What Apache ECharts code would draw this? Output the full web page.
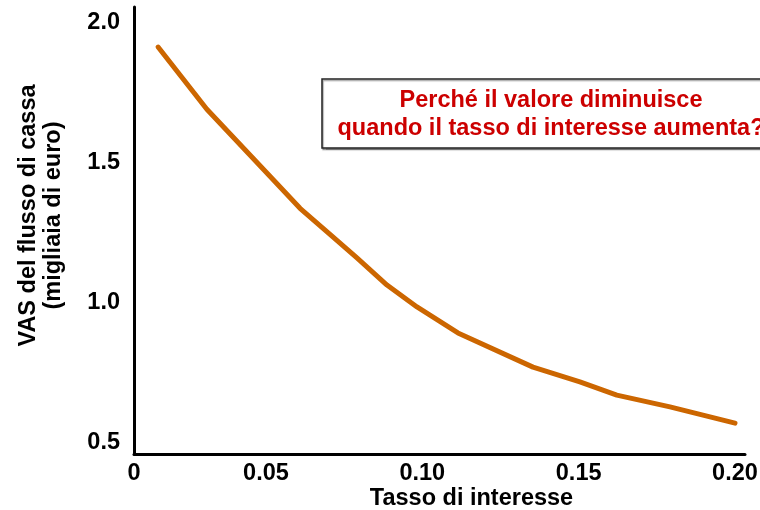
<!DOCTYPE html>
<html>
<head>
<meta charset="utf-8">
<script src="https://cdn.jsdelivr.net/npm/echarts@6/dist/echarts.min.js"></script>
<style>
html,body{margin:0;padding:0;background:#fff;}
#chart{width:760px;height:510px;}
</style>
</head>
<body>
<div id="chart"></div>
<script>
// Data
const rates = [0.0155, 0.0311, 0.0503, 0.0609, 0.0714, 0.0791, 0.0887, 0.0983, 0.1114, 0.1354, 0.1504, 0.1622, 0.1792, 0.2];
const presentValues = [1.914, 1.692, 1.464, 1.338, 1.236, 1.161, 1.064, 0.986, 0.893, 0.771, 0.718, 0.671, 0.629, 0.571];
const X_MIN = 0.0078, X_MAX = 0.2032;
const Y_MIN = 0.4607, Y_MAX = 2.057;
const xTickValues = [X_MIN, 0.05, 0.10, 0.15, 0.20];
const xTickLabels = ['0', '0.05', '0.10', '0.15', '0.20'];
const yTickValues = [0.5, 1.0, 1.5, 2.0];
const yTickLabels = ['0.5', '1.0', '1.5', '2.0'];
const xTitle = 'Tasso di interesse';
const yTitle = 'VAS del flusso di cassa\n(migliaia di euro)';
const noteLines = ['Perché il valore diminuisce', 'quando il tasso di interesse aumenta?'];

const FONT = '"Liberation Sans", Arial, Helvetica, sans-serif';
const FS = 23.5;

function pickLabel(values, labels, v) {
  let best = 0, bd = Infinity;
  values.forEach((t, i) => { const d = Math.abs(t - v); if (d < bd) { bd = d; best = i; } });
  return labels[best];
}

const chart = echarts.init(document.getElementById('chart'), null, {renderer: 'canvas'});
chart.setOption({
  animation: false,
  backgroundColor: '#ffffff',
  grid: {left: 134, right: 15, top: 7, bottom: 56, containLabel: false, outerBoundsMode: 'none'},
  xAxis: {
    type: 'value', min: X_MIN, max: X_MAX,
    splitLine: {show: false},
    axisTick: {show: false},
    axisLine: {show: true, lineStyle: {color: '#000', width: 3}},
    axisLabel: {
      customValues: xTickValues,
      formatter: v => pickLabel(xTickValues, xTickLabels, v),
      color: '#000', fontFamily: FONT, fontWeight: 'bold', fontSize: FS, margin: 8
    },
    name: xTitle, nameLocation: 'middle', nameGap: 33, nameMoveOverlap: false,
    nameTextStyle: {color: '#000', fontFamily: FONT, fontWeight: 'bold', fontSize: FS, padding: [0, 0, 0, 64]}
  },
  yAxis: {
    type: 'value', min: Y_MIN, max: Y_MAX,
    splitLine: {show: false},
    axisTick: {show: false},
    axisLine: {show: true, lineStyle: {color: '#000', width: 3}},
    axisLabel: {
      customValues: yTickValues,
      formatter: v => pickLabel(yTickValues, yTickLabels, v),
      color: '#000', fontFamily: FONT, fontWeight: 'bold', fontSize: FS, margin: 14
    },
    name: yTitle, nameLocation: 'middle', nameRotate: 90, nameGap: 68, nameMoveOverlap: false,
    nameTextStyle: {color: '#000', fontFamily: FONT, fontWeight: 'bold', fontSize: FS, lineHeight: 25, align: 'center', padding: [0, 0, 0, 30]}
  },
  series: [{
    type: 'line',
    data: rates.map((r, i) => [r, presentValues[i]]),
    showSymbol: false, symbol: 'none', smooth: false,
    lineStyle: {color: '#CC6600', width: 5, cap: 'round', join: 'round'}
  }],
  graphic: [
    {type: 'rect', shape: {x: 322, y: 79, width: 460, height: 69},
     style: {fill: '#fff', stroke: '#222', lineWidth: 1.5,
             shadowColor: 'rgba(0,0,0,0.35)', shadowOffsetX: 1, shadowOffsetY: 1.5, shadowBlur: 1}, z: 10},
    {type: 'text', x: 551, y: 101, z: 11,
     style: {text: noteLines[0], fill: '#CC0000', font: 'bold ' + FS + 'px ' + FONT, textAlign: 'center', textVerticalAlign: 'middle'}},
    {type: 'text', x: 551, y: 129, z: 11,
     style: {text: noteLines[1], fill: '#CC0000', font: 'bold ' + FS + 'px ' + FONT, textAlign: 'center', textVerticalAlign: 'middle'}}
  ]
});
</script>
</body>
</html>
